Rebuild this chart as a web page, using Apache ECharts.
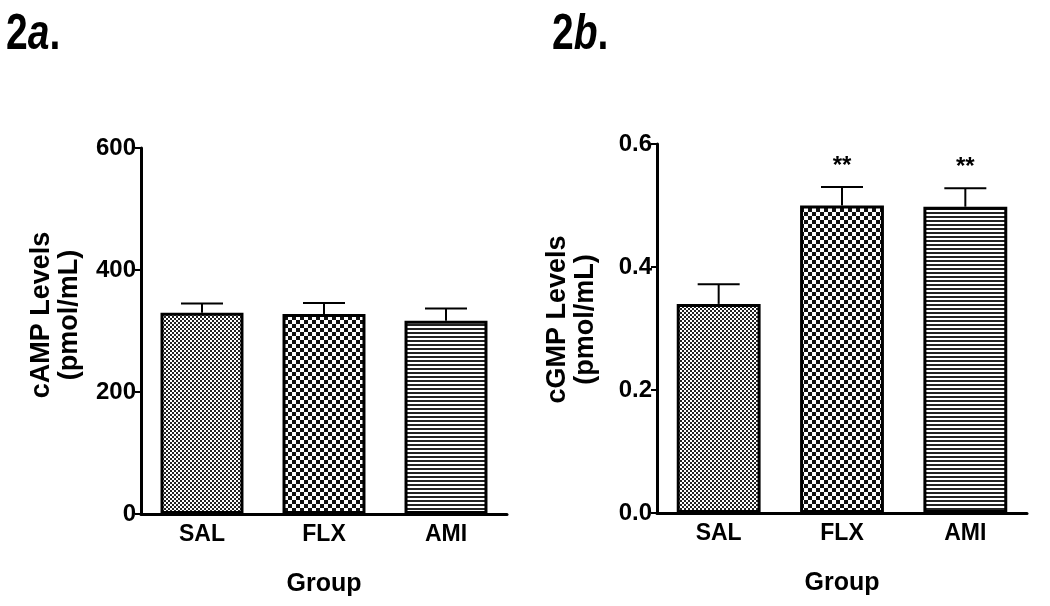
<!DOCTYPE html>
<html><head><meta charset="utf-8">
<script src="https://cdn.jsdelivr.net/npm/echarts@6/dist/echarts.min.js"></script>
<style>html,body{margin:0;padding:0;background:#fff}#c{width:1050px;height:606px}</style>
</head><body><div id="c"></div>
<script>
const categories = ['SAL', 'FLX', 'AMI'];
const campMean = [330, 328, 317];
const campErr = [15, 18, 20];
const cgmpMean = [0.34, 0.50, 0.498];
const cgmpErr = [0.032, 0.030, 0.030];
const cgmpSig = ['', '**', '**'];
const campSig = ['', '', ''];
const campTicks = {min: 0, max: 600, interval: 200};
const cgmpTicks = {min: 0, max: 0.6, interval: 0.2};
const panelLabels = [['2', 'a'], ['2', 'b']];

function mk(w, h, draw) { const c = document.createElement('canvas'); c.width = w; c.height = h; const g = c.getContext('2d'); g.fillStyle = '#fff'; g.fillRect(0,0,w,h); draw(g); return c; }
const patSAL = mk(4, 4, g => { g.fillStyle = '#222'; g.fillRect(0,0,2,2); g.fillRect(2,2,2,2); });
const patFLX = mk(8, 8, g => { g.fillStyle = '#111'; g.fillRect(0,0,4,4); g.fillRect(4,4,4,4); });
const patAMI = mk(4, 4, g => { g.fillStyle = '#222'; g.fillRect(0,0,4,2); });
const patterns = [patSAL, patFLX, patAMI];

const FONT = 'Liberation Sans, Arial, sans-serif';

function barData(vals) {
  return vals.map((v, i) => ({ value: v, itemStyle: { color: { image: patterns[i], repeat: 'repeat' }, borderColor: '#000', borderWidth: 3 } }));
}
function errData(means, errs, sig) { return means.map((m, i) => [i, m, errs[i], sig[i]]); }
function errRender(params, api) {
  const x = api.value(0), m = api.value(1), e = api.value(2);
  const p0 = api.coord([x, m]);
  const p1 = api.coord([x, m + e]);
  return { type: 'group', children: [
    { type: 'line', shape: { x1: p0[0], y1: p0[1], x2: p1[0], y2: p1[1] }, style: { stroke: '#000', lineWidth: 2 } },
    { type: 'line', shape: { x1: p1[0] - 21, y1: p1[1], x2: p1[0] + 21, y2: p1[1] }, style: { stroke: '#000', lineWidth: 2 } }
  ] };
}
function sigRender(sigArr) {
  return function (params, api) {
    const x = api.value(0), m = api.value(1), e = api.value(2);
    const p1 = api.coord([x, m + e]);
    const t = sigArr[params.dataIndex];
    if (!t) return { type: 'group', children: [] };
    return { type: 'text', style: { text: t, x: p1[0], y: p1[1] - 9, align: 'center', verticalAlign: 'bottom', font: 'bold 24px ' + FONT, fill: '#000' } };
  };
}

const axisLine = { lineStyle: { color: '#000', width: 3 } };
function xAx(gi) {
  return { type: 'category', gridIndex: gi, data: categories,
    axisLine, axisTick: { alignWithLabel: true, length: 5, lineStyle: { color: '#000', width: 2 } },
    axisLabel: { color: '#000', fontWeight: 'bold', fontSize: 23, fontFamily: FONT, margin: 9 },
    name: 'Group', nameLocation: 'middle', nameGap: 58,
    nameTextStyle: { color: '#000', fontWeight: 'bold', fontSize: 25, fontFamily: FONT } };
}
function yAx(gi, t, name, fmt, shift) {
  return { type: 'value', gridIndex: gi, min: t.min, max: t.max, interval: t.interval,
    axisLine: Object.assign({ show: true }, axisLine), splitLine: { show: false },
    axisTick: { show: true, length: 6, lineStyle: { color: '#000', width: 2 } },
    axisLabel: { color: '#000', fontWeight: 'bold', fontSize: 24, fontFamily: FONT, margin: 5, formatter: fmt },
    name, nameLocation: 'middle', nameGap: 57, nameRotate: 90,
    nameTextStyle: { color: '#000', fontWeight: 'bold', fontSize: 27, lineHeight: 28, fontFamily: FONT, padding: [0, 0, 0, shift] } };
}
function panelText(left, pl) {
  return { type: 'text', left, top: 10, scaleX: 0.78, style: { text: '{n|' + pl[0] + '}{i|' + pl[1] + '}{n|.}', rich: {
    n: { fontSize: 50, fontWeight: 'bold', fontFamily: FONT, fill: '#000' },
    i: { fontSize: 50, fontWeight: 'bold', fontStyle: 'italic', fontFamily: FONT, fill: '#000' } } } };
}

const chart = echarts.init(document.getElementById('c'), null, { renderer: 'canvas' });
chart.setOption({
  backgroundColor: '#fff',
  animation: false,
  graphic: [panelText(6, panelLabels[0]), panelText(552, panelLabels[1])],
  grid: [
    { left: 141, right: 543, top: 148, bottom: 92 },
    { left: 657, right: 23, top: 144, bottom: 93 }
  ],
  xAxis: [xAx(0), xAx(1)],
  yAxis: [
    yAx(0, campTicks, 'cAMP Levels\n(pmol/mL)', v => String(v), 32),
    yAx(1, cgmpTicks, 'cGMP Levels\n(pmol/mL)', v => v.toFixed(1), 18)
  ],
  series: [
    { type: 'bar', xAxisIndex: 0, yAxisIndex: 0, barWidth: '68%', data: barData(campMean) },
    { type: 'bar', xAxisIndex: 1, yAxisIndex: 1, barWidth: '68%', data: barData(cgmpMean) },
    { type: 'custom', xAxisIndex: 0, yAxisIndex: 0, renderItem: errRender, data: errData(campMean, campErr, campSig), z: 1 },
    { type: 'custom', xAxisIndex: 1, yAxisIndex: 1, renderItem: errRender, data: errData(cgmpMean, cgmpErr, cgmpSig), z: 1 },
    { type: 'custom', xAxisIndex: 1, yAxisIndex: 1, renderItem: sigRender(cgmpSig), data: errData(cgmpMean, cgmpErr, cgmpSig), z: 3 }
  ]
});
</script></body></html>
